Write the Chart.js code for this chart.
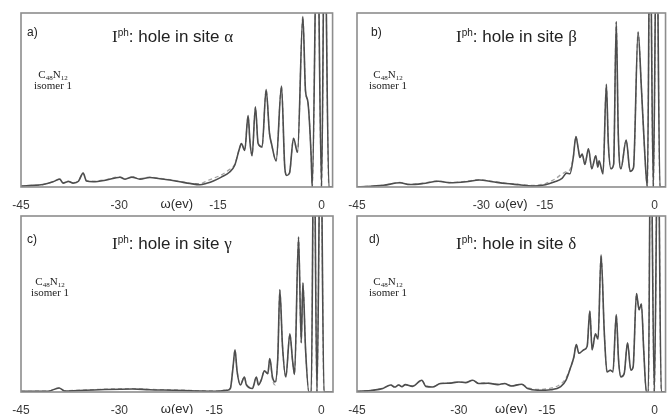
<!DOCTYPE html>
<html>
<head>
<meta charset="utf-8">
<script src="https://cdn.jsdelivr.net/npm/chart.js@4.4.0/dist/chart.umd.min.js"></script>
<style>
  html, body { margin: 0; padding: 0; background: #fff; }
  #page { position: relative; width: 669px; height: 414px; overflow: hidden; }
  canvas { position: absolute; }
  .lbl { position: absolute; white-space: nowrap; color: #222; line-height: 1; }
  .tag { font: 12px "Liberation Sans", Arial, sans-serif; }
  .head { font: 17px "Liberation Sans", Arial, sans-serif; }
  .head .s { font-family: "Liberation Serif", "Times New Roman", serif; }
  .head sup { font-size: 10px; vertical-align: 6px; line-height: 0; }
  .mol { font: 11px "Liberation Serif", "Times New Roman", serif; text-align: center; width: 44px; line-height: 11px; }
  .mol sub { font-size: 7px; vertical-align: -2px; line-height: 0; }
</style>
</head>
<body>
<div id="page">
  <canvas id="panelA" width="336" height="214" style="left:0;top:0"></canvas>
  <canvas id="panelB" width="333" height="214" style="left:336px;top:0"></canvas>
  <canvas id="panelC" width="336" height="214" style="left:0;top:205px"></canvas>
  <canvas id="panelD" width="333" height="214" style="left:336px;top:205px"></canvas>

  <div class="lbl tag" style="left:27px;top:25px">a)</div>
  <div class="lbl head" style="left:112px;top:27px"><span class="s">I</span><sup>ph</sup>: hole in site <span class="s">α</span></div>
  <div class="lbl mol" style="left:31px;top:69px">C<sub>48</sub>N<sub>12</sub><br>isomer 1</div>

  <div class="lbl tag" style="left:371px;top:25px">b)</div>
  <div class="lbl head" style="left:456px;top:27px"><span class="s">I</span><sup>ph</sup>: hole in site <span class="s">β</span></div>
  <div class="lbl mol" style="left:366px;top:69px">C<sub>48</sub>N<sub>12</sub><br>isomer 1</div>

  <div class="lbl tag" style="left:27px;top:232px">c)</div>
  <div class="lbl head" style="left:112px;top:234px"><span class="s">I</span><sup>ph</sup>: hole in site <span class="s">γ</span></div>
  <div class="lbl mol" style="left:28px;top:276px">C<sub>48</sub>N<sub>12</sub><br>isomer 1</div>

  <div class="lbl tag" style="left:369px;top:232px">d)</div>
  <div class="lbl head" style="left:456px;top:234px"><span class="s">I</span><sup>ph</sup>: hole in site <span class="s">δ</span></div>
  <div class="lbl mol" style="left:366px;top:276px">C<sub>48</sub>N<sub>12</sub><br>isomer 1</div>
</div>

<script>
  // spectra: omega (eV) and intensity, full line and dashed line per site
  const omegaA = [-45, -43.8, -41.7, -40.2, -39.2, -38.7, -37.9, -37.2, -36.4, -35.7, -35.2, -34.2, -32.2, -30.2, -29.4, -28.4, -27.2, -25.7, -24.2, -22.7, -21.2, -19.7, -18.2, -17.2, -16.2, -15.0, -13.8, -13.0, -12.3, -12.0, -11.5, -11.0, -10.7, -10.4, -9.9, -9.5, -8.9, -8.3, -7.8, -7.5, -6.8, -6.0, -5.5, -5.2, -4.8, -4.2, -3.6, -2.8, -2.4, -2.05, -1.55, -1.4, -0.65, 0.0, 0.45, 1.1, 1.65];
  const solidA = [0.005, 0.008, 0.014, 0.03, 0.045, 0.022, 0.032, 0.022, 0.033, 0.08, 0.034, 0.03, 0.04, 0.056, 0.045, 0.057, 0.045, 0.055, 0.047, 0.04, 0.03, 0.02, 0.013, 0.022, 0.035, 0.057, 0.085, 0.125, 0.22, 0.25, 0.21, 0.41, 0.25, 0.18, 0.46, 0.25, 0.23, 0.56, 0.31, 0.25, 0.15, 0.58, 0.11, 0.066, 0.08, 0.28, 0.2, 0.98, 0.55, 0.49, 0.17, 0, 1.6, 0, 1.6, 0, 0];
  const dashA  = [0.005, 0.008, 0.014, 0.03, 0.045, 0.024, 0.034, 0.025, 0.035, 0.08, 0.036, 0.033, 0.043, 0.058, 0.048, 0.058, 0.048, 0.057, 0.05, 0.042, 0.032, 0.022, 0.018, 0.035, 0.05, 0.07, 0.1, 0.13, 0.22, 0.25, 0.21, 0.41, 0.25, 0.18, 0.46, 0.25, 0.23, 0.56, 0.31, 0.25, 0.15, 0.58, 0.11, 0.07, 0.08, 0.28, 0.2, 0.98, 0.55, 0.49, 0.17, 0, 1.6, 0, 1.6, 0, 0];

  const omegaB = [-45, -41, -38.5, -37, -35, -32.7, -31, -28.5, -26.5, -24.5, -22.5, -20.5, -18.5, -16.5, -15.1, -14.0, -13.3, -12.8, -12.3, -11.9, -11.55, -11.3, -10.95, -10.55, -10.0, -9.5, -8.9, -8.6, -8.4, -7.8, -7.3, -7.0, -6.6, -6.2, -5.8, -5.5, -5.1, -4.3, -3.7, -3.2, -2.5, -2.0, -1.5, -1.1, -0.7, -0.2, 0.3, 0.8, 1.65];
  const solidB = [0, 0.01, 0.024, 0.014, 0.02, 0.033, 0.024, 0.03, 0.04, 0.03, 0.02, 0.013, 0.006, 0.013, 0.03, 0.05, 0.08, 0.076, 0.17, 0.29, 0.22, 0.17, 0.19, 0.13, 0.22, 0.105, 0.18, 0.115, 0.15, 0.075, 0.59, 0.25, 0.105, 0.13, 0.95, 0.31, 0.105, 0.27, 0.09, 0.11, 0.89, 0.57, 0.2, 0, 1.6, 0, 1.6, 0, 0];
  const dashB  = [0, 0.01, 0.026, 0.016, 0.022, 0.035, 0.026, 0.033, 0.042, 0.032, 0.022, 0.015, 0.009, 0.02, 0.045, 0.075, 0.09, 0.1, 0.17, 0.29, 0.22, 0.17, 0.19, 0.13, 0.22, 0.105, 0.18, 0.115, 0.13, 0.09, 0.59, 0.25, 0.105, 0.13, 0.95, 0.31, 0.105, 0.27, 0.09, 0.11, 0.89, 0.57, 0.2, 0, 1.6, 0, 1.6, 0, 0];

  const omegaC = [-45, -41, -39.3, -38.5, -33.3, -28.3, -25.8, -22.2, -18.7, -15.7, -14.2, -13.7, -13.3, -13.0, -12.7, -12.2, -11.6, -11.3, -10.4, -9.8, -9.5, -9.1, -8.6, -8.1, -7.8, -7.4, -7.0, -6.6, -6.3, -5.9, -5.4, -4.8, -4.4, -4.1, -3.5, -3.1, -2.85, -2.45, -1.95, -1.6, -1.2, -0.75, -0.2, 0.3, 1.65];
  const solidC = [0.004, 0.004, 0.023, 0.006, 0.013, 0.017, 0.013, 0.01, 0.006, 0.004, 0.01, 0.02, 0.14, 0.24, 0.12, 0.04, 0.085, 0.04, 0.02, 0.085, 0.04, 0.066, 0.12, 0.104, 0.19, 0.085, 0.057, 0.2, 0.58, 0.26, 0.085, 0.33, 0.18, 0.1, 0.88, 0.28, 0.62, 0.24, 0, 0, 1.6, 0, 1.6, 0, 0];
  const dashC  = [0.004, 0.005, 0.023, 0.008, 0.015, 0.019, 0.015, 0.012, 0.008, 0.006, 0.012, 0.022, 0.14, 0.24, 0.12, 0.045, 0.085, 0.045, 0.025, 0.085, 0.045, 0.066, 0.12, 0.104, 0.19, 0.07, 0.04, 0.2, 0.58, 0.26, 0.085, 0.33, 0.18, 0.1, 0.88, 0.28, 0.62, 0.24, 0, 0, 1.6, 0, 1.6, 0, 0];

  const omegaD = [-45, -42.6, -41.1, -39.9, -39.3, -38.7, -38.2, -37.7, -36.6, -35.2, -34.6, -33.6, -32.4, -31.1, -29.6, -28.6, -27.5, -26.6, -25.2, -23.7, -22.7, -21.7, -20.1, -19.2, -17.7, -15.7, -14.2, -13.4, -12.7, -12.2, -11.85, -11.45, -10.7, -10.2, -9.8, -9.45, -8.95, -8.55, -8.1, -7.6, -7.2, -6.7, -6.3, -5.8, -5.45, -5.1, -4.6, -4.1, -3.6, -3.25, -2.75, -2.35, -2.0, -1.65, -1.25, -0.95, -0.6, -0.05, 0.5, 1.0, 1.65];
  const solidD = [0.004, 0.01, 0.02, 0.04, 0.028, 0.04, 0.03, 0.042, 0.032, 0.067, 0.032, 0.028, 0.048, 0.05, 0.057, 0.053, 0.067, 0.048, 0.05, 0.042, 0.048, 0.034, 0.044, 0.02, 0.01, 0.013, 0.03, 0.067, 0.14, 0.2, 0.27, 0.22, 0.24, 0.26, 0.46, 0.24, 0.33, 0.3, 0.78, 0.33, 0.114, 0.124, 0.114, 0.44, 0.18, 0.086, 0.105, 0.28, 0.124, 0.143, 0.56, 0.467, 0.5, 0.24, 0, 0, 1.6, 0, 1.6, 0, 0];
  const dashD  = [0.004, 0.01, 0.022, 0.04, 0.03, 0.04, 0.032, 0.042, 0.034, 0.067, 0.034, 0.03, 0.048, 0.052, 0.057, 0.055, 0.067, 0.05, 0.052, 0.044, 0.048, 0.036, 0.044, 0.024, 0.015, 0.022, 0.045, 0.08, 0.14, 0.2, 0.27, 0.22, 0.24, 0.26, 0.46, 0.24, 0.33, 0.3, 0.78, 0.33, 0.114, 0.124, 0.114, 0.44, 0.18, 0.086, 0.105, 0.28, 0.124, 0.143, 0.56, 0.467, 0.5, 0.24, 0, 0, 1.6, 0, 1.6, 0, 0];

  // x tick labels and where each one sits on the omega axis
  const tickText = ['-45', '-30', '-15', '0'];
  const tickPosA = [-45, -30.3, -15.5, 0];
  const tickPosB = [-45, -26.2, -16.6, 0];
  const tickPosC = [-45, -30.3, -16.1, -0.1];
  const tickPosD = [-45, -29.6, -16.3, 0];

  // grey box round the plot area
  const frame = {
    id: 'frame',
    afterDatasetsDraw(chart) {
      const a = chart.chartArea;
      const ctx = chart.ctx;
      ctx.save();
      ctx.strokeStyle = '#8d8d8d';
      ctx.lineWidth = 1.6;
      ctx.strokeRect(a.left, a.top, a.right - a.left, a.bottom - a.top);
      ctx.restore();
    }
  };

  function pairs(xs, ys) {
    return xs.map((x, i) => ({ x: x, y: ys[i] }));
  }

  function drawPanel(id, omega, solid, dashed, tickPos, padTop, padRight) {
    return new Chart(document.getElementById(id).getContext('2d'), {
      type: 'line',
      data: {
        datasets: [
          { data: pairs(omega, solid), borderColor: '#4d4d4d', borderWidth: 1.6 },
          { data: pairs(omega, dashed), borderColor: '#a3a3a3', borderWidth: 1.3, borderDash: [4, 3] }
        ]
      },
      options: {
        responsive: false,
        animation: false,
        layout: { padding: { left: 21, right: padRight, top: padTop, bottom: 0 } },
        elements: {
          point: { radius: 0 },
          line: { cubicInterpolationMode: 'monotone', fill: false }
        },
        plugins: {
          legend: { display: false },
          tooltip: { enabled: false }
        },
        scales: {
          x: {
            type: 'linear',
            min: -45,
            max: 1.65,
            grid: { display: false, drawTicks: false },
            border: { display: false },
            afterBuildTicks: (axis) => { axis.ticks = tickPos.map(v => ({ value: v })); },
            afterFit: (axis) => { axis.height = 27; },
            ticks: {
              autoSkip: false,
              maxRotation: 0,
              padding: 11,
              color: '#3a3a3a',
              font: { family: 'Liberation Sans', size: 12 },
              callback: (value, index) => tickText[index]
            },
            title: {
              display: true,
              text: 'ω(ev)',
              color: '#2a2a2a',
              font: { family: 'Liberation Sans', size: 13 },
              padding: { top: 0, bottom: 2 }
            }
          },
          y: { display: false, min: 0, max: 1 }
        }
      },
      plugins: [frame]
    });
  }

  drawPanel('panelA', omegaA, solidA, dashA, tickPosA, 13, 3);
  drawPanel('panelB', omegaB, solidB, dashB, tickPosB, 13, 1);
  drawPanel('panelC', omegaC, solidC, dashC, tickPosC, 11, 3);
  drawPanel('panelD', omegaD, solidD, dashD, tickPosD, 11, 1);
</script>
</body>
</html>
